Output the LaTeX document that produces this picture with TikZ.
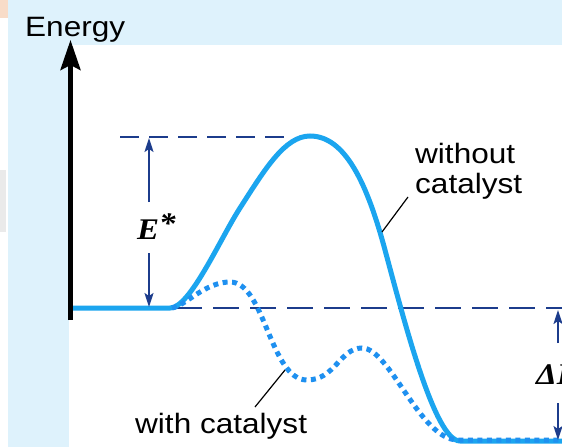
\documentclass[tikz,border=0pt]{standalone}
\usepackage{fontspec}
\setmainfont{Liberation Sans}
\newfontfamily\serifb{Liberation Serif}
\usetikzlibrary{arrows.meta}
\definecolor{panel}{HTML}{DEF2FC}
\definecolor{curve}{HTML}{1BA5EF}
\definecolor{curvedot}{HTML}{1E90F0}
\definecolor{navy}{HTML}{1C3C8C}
\definecolor{peach}{HTML}{F8DCC8}
\definecolor{blob}{HTML}{EAEAEA}
\begin{document}
\begin{tikzpicture}[x=1pt,y=-1pt,
  lbl/.style={font=\fontsize{28}{30}\selectfont, inner sep=0pt, anchor=base west},
  sym/.style={font=\serifb\bfseries\itshape\fontsize{30}{32}\selectfont, inner sep=0pt, anchor=base west},
  solidcurve/.style={curve, line width=5pt},
  dotcurve/.style={curvedot, line width=5pt, dash pattern=on 5pt off 4.5pt},
  guidetop/.style={navy, line width=1.5pt, dash pattern=on 19pt off 10pt},
  guidebot/.style={navy, line width=1.5pt, dash pattern=on 26pt off 11pt},
  dim/.style={navy, line width=1.8pt, -{Stealth[length=14pt,width=9pt,inset=3pt]}},
  leader/.style={black, line width=1.2pt},
  axisline/.style={black, line width=4.5pt, -{Stealth[length=30pt,width=20pt,inset=5pt]}}]
\useasboundingbox (0,0) rectangle (562,447);
% backgrounds
\fill[white] (0,0) rectangle (562,447);
\fill[panel] (8,0) rectangle (562,45);
\fill[panel] (8,0) rectangle (69,447);
\fill[peach] (0,0) rectangle (8,18);
\fill[blob] (0,170) rectangle (6,232);
% coordinates
\coordinate (gt1) at (120,137);
\coordinate (gt2) at (290,137);
\coordinate (gb1) at (176,308);
\coordinate (gb2) at (562,308);
\coordinate (etop) at (149,138);
\coordinate (eup) at (149,202);
\coordinate (edown) at (149,253);
\coordinate (ebot) at (149,307);
\coordinate (dtop) at (558,310);
\coordinate (dup) at (558,343);
\coordinate (ddown) at (558,403);
\coordinate (dbot) at (558,440);
\coordinate (axb) at (70.5,320);
\coordinate (axt) at (70.5,40);
\coordinate (w1) at (408,197);
\coordinate (w2) at (382,232);
\coordinate (c1) at (255,407);
\coordinate (c2) at (285,370);
% guide lines
\draw[guidetop] (gt1) -- (gt2);
\draw[guidebot] (gb1) -- (gb2);
% without catalyst
\draw[solidcurve] (72,308) -- (170,308)
  .. controls (190,308) and (220,239) .. (240,208)
  .. controls (265,169) and (285,136) .. (310,136)
  .. controls (345,136) and (367,183) .. (385,250)
  .. controls (405,324) and (435,441) .. (460,441)
  -- (562,441);
% with catalyst
\draw[dotcurve] (172,308)
  .. controls (185,306) and (205,282) .. (230,282)
  .. controls (265,282) and (270,380) .. (307,380)
  .. controls (335,380) and (340,348) .. (362,348)
  .. controls (390,348) and (420,440) .. (458,440)
  -- (562,440);
% dimension arrows
\draw[dim] (eup) -- (etop);
\draw[dim] (edown) -- (ebot);
\draw[dim] (dup) -- (dtop);
\draw[dim] (ddown) -- (dbot);
% axis
\draw[axisline] (axb) -- (axt);
% leaders
\draw[leader] (w1) -- (w2);
\draw[leader] (c1) -- (c2);
% labels
\node[lbl] (energy) at (25,36) {\scalebox{1.127}[1]{Energy}};
\node[lbl] (without) at (415,163) {\scalebox{1.127}[1]{without}};
\node[lbl] (catalyst) at (415,193) {\scalebox{1.127}[1]{catalyst}};
\node[lbl] (withcat) at (135,433) {\scalebox{1.127}[1]{with catalyst}};
\node[sym] (estar) at (137,239) {\scalebox{1.1}[1]{E\raisebox{6pt}{*}}};
\node[sym] (dlabel) at (536,384) {\scalebox{1.1}[1]{ΔE}};
\end{tikzpicture}
\end{document}
